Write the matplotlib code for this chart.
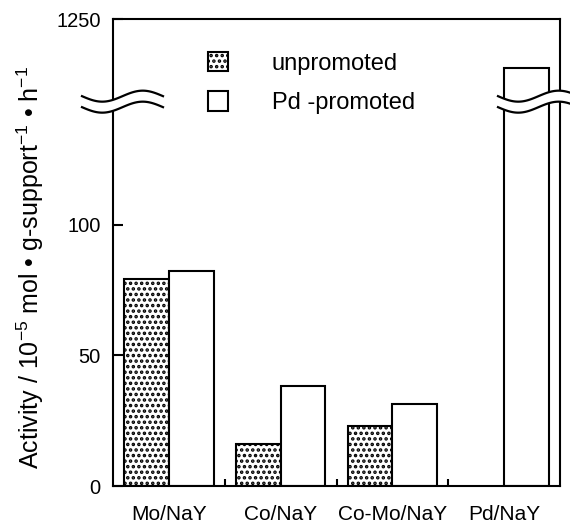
import numpy as np
import matplotlib
matplotlib.use("Agg")
import matplotlib.pyplot as plt
from matplotlib.lines import Line2D
from matplotlib.patches import Polygon
from matplotlib.transforms import IdentityTransform

plt.rcParams['font.family'] = ['Liberation Sans', 'DejaVu Sans']
plt.rcParams['mathtext.fontset'] = 'custom'
plt.rcParams['mathtext.rm'] = 'Liberation Sans'
plt.rcParams['mathtext.it'] = 'Liberation Sans:italic'
plt.rcParams['hatch.linewidth'] = 1.7

# ========== DATA ==========
catalysts = ["Mo/NaY", "Co/NaY", "Co-Mo/NaY", "Pd/NaY"]
unpromoted = [79.3, 16.1, 23.0, np.nan]
pd_promoted = [82.4, 38.3, 31.4, 1095]
series_names = ["unpromoted", "Pd -promoted"]
yticks = [0, 50, 100, 1250]

# broken y axis: 0-148 linear, gap, 1000-1250 compressed
BREAK_LO, BREAK_HI = 148, 1000
scale_in = [0, BREAK_LO, BREAK_HI, 1250]
scale_out = [0, BREAK_LO, BREAK_LO + 0.7, 178.9]

def fwd(y):
    return np.interp(y, scale_in, scale_out)

def inv(y):
    return np.interp(y, scale_out, scale_in)

# ========== FIGURE ==========
fig = plt.figure(figsize=(5.7, 5.27), dpi=100)
ax = fig.add_axes([113 / 570, 41 / 527, 447 / 570, 467 / 527])
ax.set_yscale('function', functions=(fwd, inv))

x = np.arange(len(catalysts))
w = 0.40
b1 = ax.bar(x - w / 2, unpromoted, w, color='white', edgecolor='black',
            linewidth=1.5, hatch='...', label=series_names[0])
b2 = ax.bar(x + w / 2, pd_promoted, w, color='white', edgecolor='black',
            linewidth=1.5, label=series_names[1])

ax.set_xlim(-0.5, 3.5)
ax.set_ylim(0, 1250)
ax.set_yticks(yticks)
ax.set_yticklabels([str(t) for t in yticks])
ax.yaxis.set_minor_locator(matplotlib.ticker.NullLocator())
ax.set_xticks(x)
ax.set_xticklabels(catalysts)
ax.set_xticks([0.5, 1.5, 2.5], minor=True)

ax.tick_params(axis='y', direction='in', length=7, width=1.5, labelsize=14.5, pad=9)
ax.tick_params(axis='x', which='major', length=0, labelsize=15, pad=14)
ax.tick_params(axis='x', which='minor', direction='in', length=5, width=1.5)
for s in ax.spines.values():
    s.set_linewidth(1.5)

ax.set_ylabel(r'Activity / 10$^{-5}$ mol • g-support$^{-1}$ • h$^{-1}$', fontsize=18)
ax.yaxis.set_label_coords(-0.15, 0.468)

ax.legend(handles=[b1, b2], loc='upper left', bbox_to_anchor=(0.2125, 0.93),
          frameon=False, fontsize=17, handlelength=0.85, handleheight=0.9,
          handletextpad=1.85, labelspacing=0.7, borderpad=0, borderaxespad=0)

# ========== AXIS BREAK MARKS ==========
fig.canvas.draw()
def draw_break(x0, yc, width=81, amp=5.5, gap=11):
    t = np.linspace(0, 1, 60)
    xs = x0 + t * width
    wave = -amp * np.sin(2 * np.pi * t)
    top = yc + gap / 2 + wave
    bot = yc - gap / 2 + wave
    poly = Polygon(np.column_stack([np.r_[xs, xs[::-1]], np.r_[top, bot[::-1]]]),
                   closed=True, facecolor='white', edgecolor='none',
                   transform=IdentityTransform(), zorder=10)
    fig.add_artist(poly)
    for yy in (top, bot):
        fig.add_artist(Line2D(xs, yy, color='black', lw=1.6,
                              transform=IdentityTransform(), zorder=11))

y_break = ax.transData.transform((0, BREAK_LO))[1] - 2
x_left = ax.transAxes.transform((0, 0))[0]
x_right = ax.transAxes.transform((1, 0))[0]
draw_break(x_left - 31, y_break)
draw_break(x_right - 62, y_break)

fig.savefig("out.png", dpi=100)
